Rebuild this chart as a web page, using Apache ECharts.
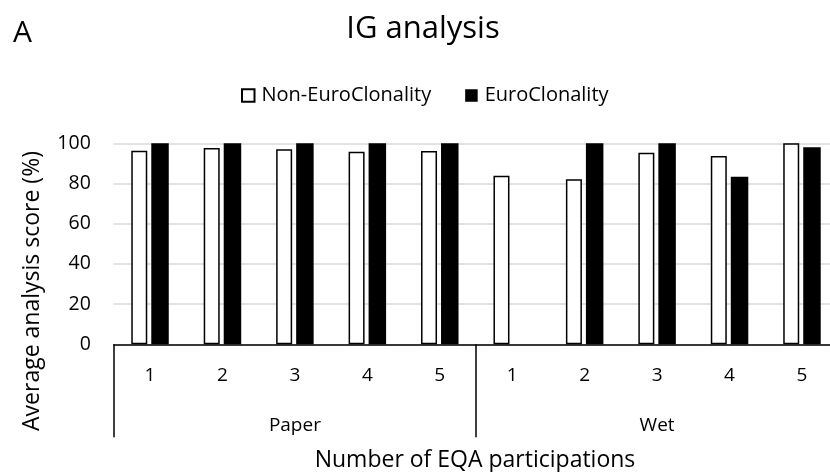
<!DOCTYPE html>
<html>
<head>
<meta charset="utf-8">
<script src="https://cdn.jsdelivr.net/npm/echarts@6/dist/echarts.min.js"></script>
<style>html,body{margin:0;padding:0;background:#fff;}#c{width:830px;height:472px;}</style>
</head>
<body>
<div id="c"></div>
<script>
const participations = ['1','2','3','4','5','1','2','3','4','5'];
const groups = ['Paper','Wet'];
const nonEuroClonality = [96.3, 97.7, 97.0, 95.8, 96.2, 83.9, 82.1, 95.3, 93.7, 100];
const euroClonality = [100, 100, 100, 100, 100, null, 100, 100, 83.4, 98.0];
const yTicks = [0, 20, 40, 60, 80, 100];

const FONT = '"Open Sans", sans-serif';
const chart = echarts.init(document.getElementById('c'), null, {renderer: 'canvas'});
chart.setOption({
  animation: false,
  backgroundColor: '#ffffff',
  textStyle: {fontFamily: FONT, color: '#000'},
  graphic: [
    {type: 'text', x: 13, y: 33, style: {text: 'A', font: '30px ' + FONT, fill: '#000', align: 'left', verticalAlign: 'middle'}},
    {type: 'text', x: 423, y: 29.5, style: {text: 'IG analysis', font: '31px ' + FONT, fill: '#000', align: 'center', verticalAlign: 'middle'}},
    {type: 'text', x: 32, y: 291, rotation: Math.PI / 2, style: {text: 'Average analysis score (%)', font: '23px ' + FONT, fill: '#000', align: 'center', verticalAlign: 'middle'}},
    {type: 'text', x: 475, y: 460, style: {text: 'Number of EQA participations', font: '23px ' + FONT, fill: '#000', align: 'center', verticalAlign: 'middle'}}
  ],
  legend: {
    left: 241, top: 85.5, padding: 0,
    itemWidth: 12.5, itemHeight: 12.5, itemGap: 34,
    icon: 'rect',
    textStyle: {fontFamily: FONT, fontSize: 20, color: '#000', padding: [0, 0, 0, 2]},
    data: ['Non-EuroClonality', 'EuroClonality']
  },
  grid: {left: 113.8, right: -8.2, top: 143.3, bottom: 127.7, containLabel: false, outerBoundsMode: 'none'},
  xAxis: [
    {
      type: 'category', data: participations, position: 'bottom',
      axisLine: {show: true, lineStyle: {color: '#000', width: 1.5}},
      axisTick: {show: false},
      axisLabel: {fontFamily: FONT, fontSize: 19, color: '#000', margin: 22, interval: 0}
    },
    {
      type: 'category', data: groups, position: 'bottom',
      axisLine: {show: false},
      axisTick: {show: true, length: 93, interval: 0, lineStyle: {color: '#000', width: 1.5}},
      axisLabel: {fontFamily: FONT, fontSize: 19, color: '#000', margin: 72, interval: 0}
    }
  ],
  yAxis: {
    type: 'value', min: 0, max: 100, interval: 20,
    axisLine: {show: false}, axisTick: {show: false},
    axisLabel: {fontFamily: FONT, fontSize: 19.5, color: '#000', margin: 23},
    splitLine: {lineStyle: {color: '#d9d9d9', width: 1.5}}
  },
  series: [
    {
      name: 'Non-EuroClonality', type: 'bar', xAxisIndex: 0, data: nonEuroClonality,
      barWidth: 16, barGap: '25%',
      itemStyle: {color: '#ffffff', borderColor: '#000', borderWidth: 1.5}
    },
    {
      name: 'EuroClonality', type: 'bar', xAxisIndex: 0, data: euroClonality,
      barWidth: 17.5,
      itemStyle: {color: '#000'}
    }
  ]
});
</script>
</body>
</html>
